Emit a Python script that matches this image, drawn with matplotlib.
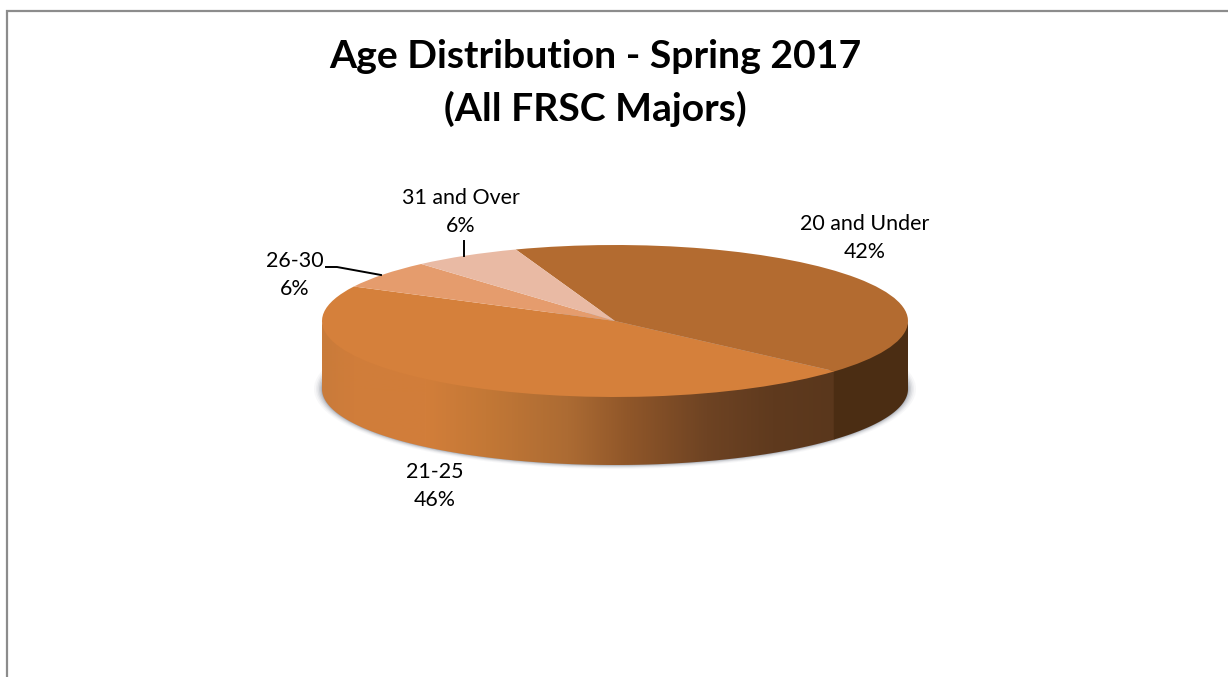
import numpy as np
import matplotlib
matplotlib.use("Agg")
import matplotlib.pyplot as plt
from matplotlib.colors import LinearSegmentedColormap
from matplotlib.patches import Ellipse, Polygon

categories = ["20 and Under", "21-25", "26-30", "31 and Over"]
values = [42, 46, 6, 6]
colors = ["#B36B30", "#D5803B", "#E59C6D", "#E9BAA4"]
title = "Age Distribution - Spring 2017\n(All FRSC Majors)"

W, H = 1228, 677
CX, CY, RX, RY, DEPTH = 615, 321, 293, 76, 68
START_ANGLE = 109.8

plt.rcParams["font.family"] = ["Lato", "DejaVu Sans"]
fig = plt.figure(figsize=(W / 100, H / 100), dpi=100, facecolor="white")
ax = fig.add_axes([0, 0, 1, 1])


def px(x):
    return (x - CX) / RX


def py(y):
    return (CY - y) / RY


# Top of the pie, in a coordinate system where the unit circle maps onto the ellipse
wedges, _ = ax.pie(values, colors=colors, startangle=START_ANGLE, counterclock=False,
                   radius=1, center=(0, 0), wedgeprops={"linewidth": 0})
for w in wedges:
    w.set_zorder(5)
ax.set_aspect("auto")
ax.set_xlim(px(0), px(W))
ax.set_ylim(py(H), py(0))
ax.axis("off")

d = DEPTH / RY

# Soft drop shadow under the pie
for grow, alpha in zip([8, 6, 4.5, 3, 1.5, 0.5], [0.05, 0.07, 0.1, 0.14, 0.18, 0.25]):
    ax.add_patch(Ellipse((px(CX), py(CY + DEPTH)), 2 * (RX + grow) / RX, 2 * (RY + grow * 0.5) / RY,
                         facecolor=(0.42, 0.45, 0.5), alpha=alpha, lw=0, zorder=1))


def wall(a0, a1):
    t = np.radians(np.linspace(a0, a1, 200))
    top = np.column_stack([np.cos(t), np.sin(t)])
    bottom = top[::-1] - [0, d]
    # Top edge tucked under the pie's face so no light seam shows
    return np.vstack([top + [0, 0.03], bottom])


# Boundary between the two front slices, taken from the pie itself
boundary = wedges[0].theta1 % 360

shade = LinearSegmentedColormap.from_list("side", [
    (0.0, "#C97B3A"), (0.06, "#D07D3A"), (0.2, "#D27E3A"), (0.32, "#C37836"),
    (0.48, "#AC6B33"), (0.6, "#8F5629"), (0.75, "#6E4323"), (0.88, "#5F3A1E"), (1.0, "#5A371C")])
grad = np.linspace(0, 1, 512)[None, :]
x0, x1 = px(CX - RX), np.cos(np.radians(boundary))
img = ax.imshow(grad, cmap=shade, extent=(x0, x1, py(CY + RY + DEPTH + 2), py(CY - 2)),
                aspect="auto", zorder=3, origin="lower")
clip = Polygon(wall(180, boundary), transform=ax.transData, facecolor="none", lw=0)
ax.add_patch(clip)
img.set_clip_path(clip)
ax.add_patch(Polygon(wall(boundary - 0.3, 360), facecolor="#4B2D13", lw=0, zorder=4))
ax.set_xlim(px(0), px(W))
ax.set_ylim(py(H), py(0))

# Chart frame (only left and top edges are visible)
ax.plot([px(6.5), px(6.5), px(W)], [py(H), py(10.5), py(10.5)], color="#8C8C8C", lw=1.6, zorder=6,
        solid_joinstyle="miter", clip_on=False)

ax.text(px(595), py(83), title, ha="center", va="center", fontsize=28.2, fontweight="bold",
        color="black", linespacing=1.56, zorder=8)

label_pos = [(865, 238), (435, 486), (295, 275), (461, 212)]
for cat, val, (lx, ly) in zip(categories, values, label_pos):
    ax.text(px(lx), py(ly), f"{cat}\n{val}%", ha="center", va="center", fontsize=15.4, color="black",
            linespacing=1.5, zorder=8)

# Leader lines
ax.plot([px(326), px(337), px(381)], [py(267), py(267), py(275)], color="black", lw=1.4, zorder=7)
ax.plot([px(464), px(464)], [py(241), py(256)], color="black", lw=1.4, zorder=7)

fig.savefig("out.png", dpi=100, facecolor="white")
